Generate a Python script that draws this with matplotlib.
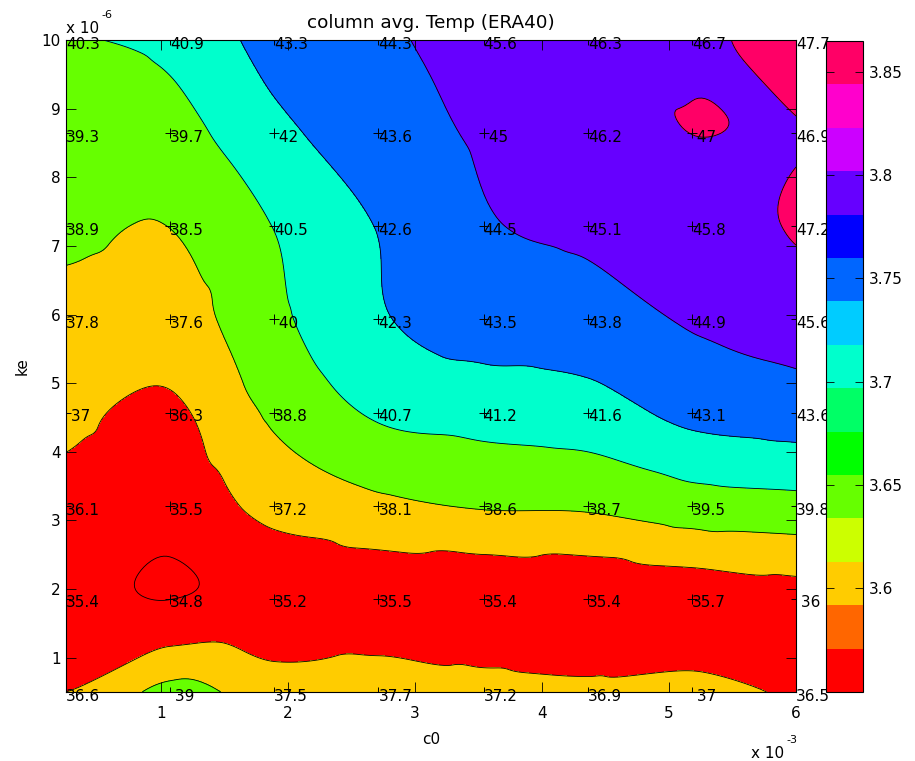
import numpy as np
import matplotlib
matplotlib.use("Agg")
import matplotlib.pyplot as plt
import matplotlib.tri as mtri
from matplotlib import colors as mcolors
from matplotlib import cm
from matplotlib.ticker import FuncFormatter

plt.rcParams['font.family'] = ['DejaVu Sans']
plt.rcParams['font.size'] = 11

# grid of the parameter sweep
c0 = [0.25e-3, 1.07e-3, 1.89e-3, 2.71e-3, 3.54e-3, 4.36e-3, 5.18e-3, 6.0e-3]
ke = [0.5e-6, 1.86e-6, 3.21e-6, 4.57e-6, 5.93e-6, 7.29e-6, 8.64e-6, 10.0e-6]

# column avg. temperature, one row per ke (bottom to top)
temp = [
    [36.6, 39.0, 37.5, 37.7, 37.2, 36.9, 37.0, 36.5],
    [35.4, 34.8, 35.2, 35.5, 35.4, 35.4, 35.7, 36.0],
    [36.1, 35.5, 37.2, 38.1, 38.6, 38.7, 39.5, 39.8],
    [37.0, 36.3, 38.8, 40.7, 41.2, 41.6, 43.1, 43.6],
    [37.8, 37.6, 40.0, 42.3, 43.5, 43.8, 44.9, 45.6],
    [38.9, 38.5, 40.5, 42.6, 44.5, 45.1, 45.8, 47.2],
    [39.3, 39.7, 42.0, 43.6, 45.0, 46.2, 47.0, 46.9],
    [40.3, 40.9, 43.3, 44.3, 45.6, 46.3, 46.7, 47.7],
]

levels = [3.55, 3.60, 3.65, 3.70, 3.75, 3.80, 3.85]
cbar_ticks = [3.6, 3.65, 3.7, 3.75, 3.8, 3.85]
n_colors = 15


def main():
    T = np.array(temp)
    X, Y = np.meshgrid(c0, ke)
    Z = np.log(T)

    # matlab style hsv map with 15 entries
    hues = np.arange(n_colors) / n_colors
    cmap = mcolors.ListedColormap(mcolors.hsv_to_rgb(
        np.column_stack([hues, np.ones(n_colors), np.ones(n_colors)])))
    norm = mcolors.Normalize(vmin=Z.min(), vmax=Z.max())

    # fill colour of each band is taken from its lower level
    band_colors = [cmap(norm(Z.min()))] + [cmap(norm(v)) for v in levels]

    tri = mtri.Triangulation(X.ravel(), Y.ravel())
    interp = mtri.CubicTriInterpolator(tri, Z.ravel(), kind='geom')
    refiner = mtri.UniformTriRefiner(tri)
    tri_f, z_f = refiner.refine_field(Z.ravel(), triinterpolator=interp, subdiv=5)

    fig = plt.figure(figsize=(9.15, 7.61), dpi=100)
    ax = fig.add_axes([66 / 915, 69 / 761, 730 / 915, 652 / 761])
    cax = fig.add_axes([826 / 915, 69 / 761, 37 / 915, 651 / 761])

    ax.tricontourf(tri_f, z_f, levels=levels, colors=band_colors, extend='both')
    ax.tricontour(tri_f, z_f, levels=levels, colors='k', linewidths=0.6)

    ax.plot(X.ravel(), Y.ravel(), '+', color='k', markersize=7, mew=0.7)
    for i in range(len(ke)):
        for j in range(len(c0)):
            v = T[i, j]
            s = "%g" % v
            if v == int(v):
                s = " " + s
            ax.annotate(s, (c0[j], ke[i]), xytext=(0, -3), textcoords='offset points',
                        ha='left', va='center', annotation_clip=False)

    ax.set_xlim(c0[0], c0[-1])
    ax.set_ylim(ke[0], ke[-1])
    ax.set_xticks([1e-3, 2e-3, 3e-3, 4e-3, 5e-3, 6e-3])
    ax.set_yticks([k * 1e-6 for k in range(1, 11)])
    ax.xaxis.set_major_formatter(FuncFormatter(lambda v, p: "%g" % round(v * 1e3, 6)))
    ax.yaxis.set_major_formatter(FuncFormatter(lambda v, p: "%g" % round(v * 1e6, 6)))
    ax.tick_params(direction='in', top=True, right=True, length=7, width=0.6)
    ax.tick_params(axis='x', pad=10)
    ax.tick_params(axis='y', pad=4)
    for sp in ax.spines.values():
        sp.set_linewidth(0.8)

    ax.set_title("column avg. Temp (ERA40)", pad=9)
    ax.set_xlabel("c0", labelpad=8)
    ax.set_ylabel("ke", labelpad=8)

    # matlab style exponent labels
    fig.text(66 / 915, 1 - 33 / 761, "x 10", ha='left', va='baseline')
    fig.text(101 / 915, 1 - 18 / 761, "-6", ha='left', va='baseline', fontsize=8)
    fig.text(751 / 915, 1 - 758 / 761, "x 10", ha='left', va='baseline')
    fig.text(786 / 915, 1 - 743 / 761, "-3", ha='left', va='baseline', fontsize=8)

    cb = fig.colorbar(cm.ScalarMappable(norm=norm, cmap=cmap), cax=cax, ticks=cbar_ticks)
    cb.ax.yaxis.set_major_formatter(FuncFormatter(lambda v, p: "%g" % round(v, 4)))
    cb.ax.tick_params(direction='in', left=True, right=True, length=6, width=0.6, pad=4)
    cb.outline.set_linewidth(0.8)

    fig.savefig("out.png", dpi=100)


if __name__ == "__main__":
    main()
